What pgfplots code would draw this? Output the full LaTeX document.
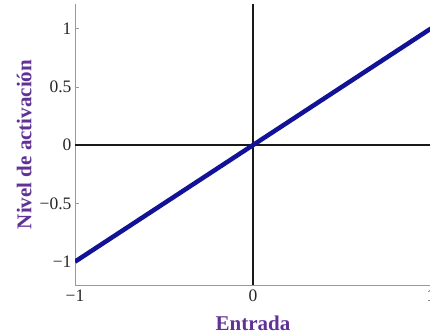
\documentclass[border=0pt]{standalone}
\usepackage{pgfplots}
\pgfplotsset{compat=1.18}
\usepackage{fontspec}
\setmainfont{Liberation Serif}
\definecolor{labelpurple}{RGB}{96,50,150}
\definecolor{linenavy}{RGB}{18,18,150}
\begin{document}
\begin{tikzpicture}[x=1pt,y=1pt]
\begin{axis}[
  at={(75pt,49pt)}, anchor=south west,
  scale only axis, width=356pt, height=281pt,
  xmin=-1, xmax=1, ymin=-1.2, ymax=1.21,
  axis lines*=left,
  axis line style={gray!80, line width=0.6pt},
  xtick={-1,0,1}, xticklabels={−1,0,1},
  ytick={-1,-0.5,0,0.5,1}, yticklabels={−1,−0.5,0,0.5,1},
  tick align=inside, major tick length=4pt,
  tick style={gray!80, line width=0.5pt},
  ticklabel style={font=\fontsize{17.5}{18}\selectfont, black!85},
  xticklabel style={yshift=-1pt},
  xlabel={Entrada}, ylabel={Nivel de activación},
  label style={font=\fontsize{21}{22}\selectfont\bfseries, text=labelpurple},
  xlabel style={at={(axis description cs:0.5,0)}, anchor=north, yshift=-27pt},
  ylabel style={at={(axis description cs:0,0.5)}, anchor=south, yshift=40pt},
]
\draw[black!90, line width=1.5pt] (axis cs:-1,0) -- (axis cs:1,0);
\draw[black!90, line width=1.5pt] (axis cs:0,-1.2) -- (axis cs:0,1.21);
\addplot[linenavy, line width=4.5pt] coordinates {(-1,-1) (0,0) (1,1)};
\end{axis}
\pgfresetboundingbox
\path[use as bounding box] (0,0) rectangle (430,334);
\end{tikzpicture}
\end{document}
